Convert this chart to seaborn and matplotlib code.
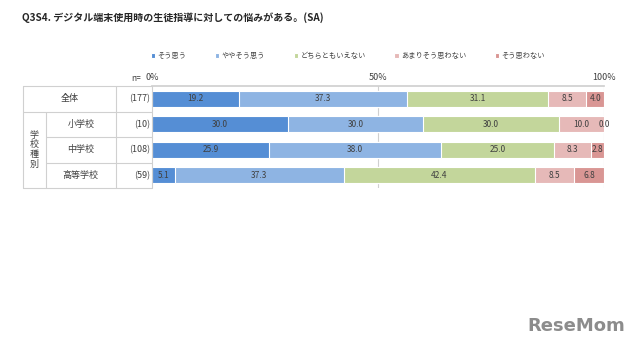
import numpy as np
import pandas as pd
import matplotlib
matplotlib.use("Agg")
import matplotlib.pyplot as plt
import seaborn as sns

# data
rows = ["全体", "小学校", "中学校", "高等学校"]
n_counts = ["(177)", "(10)", "(108)", "(59)"]
series = ["そう思う", "ややそう思う", "どちらともいえない", "あまりそう思わない", "そう思わない"]
sou_omou = [19.2, 30.0, 25.9, 5.1]
yaya = [37.3, 30.0, 38.0, 37.3]
dochira = [31.1, 30.0, 25.0, 42.4]
amari = [8.5, 10.0, 8.3, 8.5]
omowanai = [4.0, 0.0, 2.8, 6.8]
colors = ["#558ED5", "#8EB4E3", "#C3D69B", "#E6B9B8", "#D99694"]

sns.set_theme(style="white")
plt.rcParams["font.family"] = ["Noto Sans CJK JP", "DejaVu Sans"]
txt = "#404040"
line_c = "#D0D0D0"

df = pd.DataFrame({"row": rows, series[0]: sou_omou, series[1]: yaya,
                   series[2]: dochira, series[3]: amari, series[4]: omowanai})
cum = df[series].cumsum(axis=1)

fig = plt.figure(figsize=(6.4, 3.5), dpi=100)
ax = fig.add_axes([152 / 640, 1 - 188 / 350, 452 / 640, 102 / 350])

# stacked by overlaying cumulative totals, last series first
for s, c in reversed(list(zip(series, colors))):
    sns.barplot(x=cum[s], y=df["row"], color=c, orient="h", width=0.63,
                edgecolor="white", linewidth=0.8, saturation=1, ax=ax, label=s)

handles, labels = ax.get_legend_handles_labels()
if ax.get_legend() is not None:
    ax.get_legend().remove()

# segment labels
for i in range(len(rows)):
    left = 0
    for s in series:
        v = df.loc[i, s]
        ax.text(left + v / 2, i, f"{v:.1f}", ha="center", va="center",
                fontsize=6, color=txt)
        left += v

ax.set_xlim(0, 100)
ax.set_ylim(3.5, -0.5)
ax.set_xlabel("")
ax.set_ylabel("")
ax.set_yticks([])
ax.xaxis.tick_top()
ax.set_xticks([0, 50, 100])
ax.set_xticklabels(["0%", "50%", "100%"], fontsize=6.5, color=txt)
ax.tick_params(axis="x", length=0, pad=3)
ax.axvline(50, color=line_c, lw=0.8, zorder=0)
for side in ["left", "right", "bottom"]:
    ax.spines[side].set_visible(False)
ax.spines["top"].set_color(line_c)
ax.axvline(100, color=line_c, lw=0.8, zorder=0)

# table on the left, drawn in data coordinates outside the axes
x0, x1, x2, x3 = -28.5, -23.5, -8.0, 0.0
kw = dict(color=line_c, lw=0.8, clip_on=False)
ax.plot([x0, x3], [-0.5, -0.5], **kw)
ax.plot([x0, x3], [0.5, 0.5], **kw)
ax.plot([x1, x3], [1.5, 1.5], **kw)
ax.plot([x1, x3], [2.5, 2.5], **kw)
ax.plot([x0, x3], [3.5, 3.5], **kw)
ax.plot([x0, x0], [-0.5, 3.5], **kw)
ax.plot([x1, x1], [0.5, 3.5], **kw)
ax.plot([x2, x2], [-0.5, 3.5], **kw)
ax.plot([x3, x3], [-0.5, 3.5], **kw)

ax.text((x0 + x2) / 2, 0, rows[0], ha="center", va="center", fontsize=6.5, color=txt)
for i in range(1, 4):
    ax.text((x1 + x2) / 2, i, rows[i], ha="center", va="center", fontsize=6.5, color=txt)
ax.text((x0 + x1) / 2, 2, "学\n校\n種\n別", ha="center", va="center",
        fontsize=6.5, color=txt, linespacing=1.1)
for i, nc in enumerate(n_counts):
    ax.text(-0.4, i, nc, ha="right", va="center", fontsize=6.5, color=txt)
ax.text(-2.5, -0.78, "n=", ha="right", va="center", fontsize=6, color=txt)

# legend
order = [labels.index(s) for s in series]
fig.legend([handles[k] for k in order], series, loc="center left",
           bbox_to_anchor=(144 / 640, 1 - 56 / 350), ncol=5, frameon=False,
           fontsize=5.2, handlelength=0.6, handleheight=0.6, handletextpad=0.3,
           columnspacing=4.0, labelcolor=txt)

fig.text(22 / 640, 1 - 18 / 350, "Q3S4. デジタル端末使用時の生徒指導に対しての悩みがある。(SA)",
         ha="left", va="center", fontsize=7.2, fontweight="bold", color="#262626")
fig.text(625 / 640, 1 - 326 / 350, "ReseMom", ha="right", va="center",
         fontsize=13, fontweight="bold", color="#8C8C8C", family="DejaVu Sans")

fig.savefig("out.png", dpi=100)
